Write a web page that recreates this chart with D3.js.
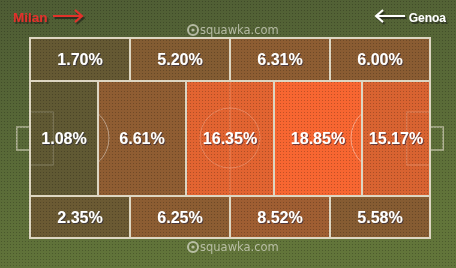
<!DOCTYPE html>
<html>
<head>
<meta charset="utf-8">
<script src="https://cdn.jsdelivr.net/npm/d3@7"></script>
<style>
  html, body { margin: 0; padding: 0; background: #55653a; }
  svg { display: block; }
</style>
</head>
<body>
<div class="chartContainer"></div>
<script>
// share of possession in each pitch zone (%), Milan attacking left -> right
var topRow = [1.70, 5.20, 6.31, 6.00];
var midRow = [1.08, 6.61, 16.35, 18.85, 15.17];
var bottomRow = [2.35, 6.25, 8.52, 5.58];

// zone edges along the pitch length (0-100) for the middle row
var midEdges = [0, 17, 39, 61, 83, 100];
// row edges across the pitch width (0-100)
var rowEdges = [0, 21.5, 79, 100];

var teams = ['Milan', 'Genoa'];
var watermark = 'squawka.com';

function Graph() {
    const width = 456;
    const height = 268;

    const x = d3.scaleLinear().domain([0, 100]).range([30, 430]);
    const y = d3.scaleLinear().domain([0, 100]).range([38, 238]);
    const band = d3.scaleBand().domain(d3.range(topRow.length)).range([0, 100]).padding(0);

    const maxVal = d3.max(topRow.concat(midRow, bottomRow));
    const colour = d3.scaleLinear() // low values are olive, highest is full orange
                     .domain([0, maxVal])
                     .range(['#575833', '#f76631'])
                     .interpolate(d3.interpolateRgb);

    const svg = d3.select('.chartContainer')
                  .append('svg')
                    .attr('width', width)
                    .attr('height', height);

    const defs = svg.append('defs');
    const grad = defs.append('linearGradient').attr('id', 'bg')
                     .attr('x1', 0).attr('y1', 0).attr('x2', 0.3).attr('y2', 1);
    grad.append('stop').attr('offset', '0%').attr('stop-color', '#4e5c34');
    grad.append('stop').attr('offset', '100%').attr('stop-color', '#62753a');

    const pat = defs.append('pattern').attr('id', 'dots')
                    .attr('width', 3).attr('height', 3)
                    .attr('patternUnits', 'userSpaceOnUse');
    pat.append('rect').attr('x', 1).attr('y', 1).attr('width', 1).attr('height', 1)
       .attr('fill', '#000').attr('opacity', 0.22);

    // drop shadows for the texts
    const sh = defs.append('filter').attr('id', 'shadow').attr('x', '-20%').attr('y', '-40%').attr('width', '140%').attr('height', '180%');
    sh.append('feDropShadow').attr('dx', 1).attr('dy', 1).attr('stdDeviation', 0.4)
      .attr('flood-color', '#1b2340').attr('flood-opacity', 0.6);
    const sh2 = defs.append('filter').attr('id', 'shadow2').attr('x', '-20%').attr('y', '-60%').attr('width', '140%').attr('height', '220%');
    sh2.append('feDropShadow').attr('dx', 1.5).attr('dy', 2).attr('stdDeviation', 0.6)
       .attr('flood-color', '#14140a').attr('flood-opacity', 0.6);

    svg.append('rect').attr('width', width).attr('height', height).attr('fill', 'url(#bg)');

    // zone cells
    const cells = [];
    topRow.forEach((v, i) => cells.push({v: v, x0: band(i), x1: band(i) + band.bandwidth(), y0: rowEdges[0], y1: rowEdges[1]}));
    midRow.forEach((v, i) => cells.push({v: v, x0: midEdges[i], x1: midEdges[i + 1], y0: rowEdges[1], y1: rowEdges[2]}));
    bottomRow.forEach((v, i) => cells.push({v: v, x0: band(i), x1: band(i) + band.bandwidth(), y0: rowEdges[2], y1: rowEdges[3]}));

    svg.selectAll('rect.cell')
       .data(cells)
       .enter()
         .append('rect')
           .attr('class', 'cell')
           .attr('x', d => x(d.x0))
           .attr('y', d => y(d.y0))
           .attr('width', d => x(d.x1) - x(d.x0))
           .attr('height', d => y(d.y1) - y(d.y0))
           .attr('fill', d => colour(d.v));

    // pitch markings (faint)
    const marks = svg.append('g').attr('fill', 'none').attr('stroke', '#ffffff').attr('stroke-opacity', 0.22).attr('stroke-width', 1);
    marks.append('line').attr('x1', x(50)).attr('x2', x(50)).attr('y1', y(0)).attr('y2', y(100));
    marks.append('circle').attr('cx', x(50)).attr('cy', y(50)).attr('r', x(7.5) - x(0));
    marks.append('rect').attr('x', x(0)).attr('y', y(37)).attr('width', x(5.8) - x(0)).attr('height', y(63.5) - y(37));
    marks.append('rect').attr('x', x(94.2)).attr('y', y(37)).attr('width', x(5.8) - x(0)).attr('height', y(63.5) - y(37));
    const r = x(8.25) - x(0);
    const arc = d3.arc().innerRadius(r).outerRadius(r);
    const a = Math.acos((x(17) - x(11.5)) / r);
    marks.append('path').attr('transform', `translate(${x(11.5)},${y(50)})`)
         .attr('d', arc({startAngle: Math.PI / 2 - a, endAngle: Math.PI / 2 + a}));
    marks.append('path').attr('transform', `translate(${x(88.5)},${y(50)})`)
         .attr('d', arc({startAngle: -Math.PI / 2 - a, endAngle: -Math.PI / 2 + a}));

    // goals outside the pitch
    const goals = svg.append('g').attr('fill', 'none').attr('stroke', '#d8d4c0').attr('stroke-opacity', 0.7).attr('stroke-width', 1.5);
    goals.append('path').attr('d', `M${x(0)},${y(44.5)}H${x(-3.3)}V${y(56)}H${x(0)}`);
    goals.append('path').attr('d', `M${x(100)},${y(44.5)}H${x(103.3)}V${y(56)}H${x(100)}`);

    svg.append('rect').attr('width', width).attr('height', height).attr('fill', 'url(#dots)');

    // zone borders
    svg.selectAll('rect.border')
       .data(cells)
       .enter()
         .append('rect')
           .attr('class', 'border')
           .attr('x', d => x(d.x0))
           .attr('y', d => y(d.y0))
           .attr('width', d => x(d.x1) - x(d.x0))
           .attr('height', d => y(d.y1) - y(d.y0))
           .attr('fill', 'none')
           .attr('stroke', '#ddd6c2')
           .attr('stroke-width', 2);

    // value labels
    svg.selectAll('text.val')
       .data(cells)
       .enter()
         .append('text')
           .attr('class', 'val')
           .attr('x', d => x((d.x0 + d.x1) / 2))
           .attr('y', d => y((d.y0 + d.y1) / 2))
           .attr('dy', '0.36em')
           .attr('text-anchor', 'middle')
           .attr('font-family', 'Liberation Sans, Arial, sans-serif')
           .attr('font-weight', 'bold')
           .attr('font-size', 16)
           .attr('fill', '#ffffff')
           .attr('filter', 'url(#shadow)')
           .text(d => d.v.toFixed(2) + '%');

    // team direction labels
    function arrow(g, x0, x1, yy, col) {
        const dir = x1 > x0 ? -1 : 1;
        g.append('path')
         .attr('d', `M${x0},${yy}H${x1}M${x1 + dir * 7},${yy - 6}L${x1},${yy}L${x1 + dir * 7},${yy + 6}`)
         .attr('fill', 'none').attr('stroke', col).attr('stroke-width', 2);
    }
    const head = svg.append('g').attr('filter', 'url(#shadow2)');
    head.append('text').attr('x', 13).attr('y', 22).attr('font-family', 'Liberation Sans, Arial, sans-serif')
        .attr('font-weight', 'bold').attr('font-size', 13.5).attr('fill', '#e2302c').text(teams[0]);
    arrow(head, 53, 82, 16, '#e2302c');
    head.append('text').attr('x', 446).attr('y', 22).attr('text-anchor', 'end').attr('font-family', 'Liberation Sans, Arial, sans-serif')
        .attr('font-weight', 'bold').attr('font-size', 12).attr('fill', '#ffffff').text(teams[1]);
    arrow(head, 405, 376, 16, '#ffffff');

    // watermarks
    [30, 247].forEach(yy => {
        const w = svg.append('g').attr('opacity', 0.75);
        w.append('circle').attr('cx', 193).attr('cy', yy).attr('r', 5)
         .attr('fill', 'none').attr('stroke', '#d6d8c8').attr('stroke-width', 2);
        w.append('circle').attr('cx', 193).attr('cy', yy).attr('r', 1.6).attr('fill', '#d6d8c8');
        w.append('text').attr('x', 200).attr('y', yy).attr('dy', '0.35em')
         .attr('font-family', 'DejaVu Sans, sans-serif').attr('font-size', 11.5)
         .attr('fill', '#d6d8c8').text(watermark);
    });
}

Graph();
</script>
</body>
</html>
